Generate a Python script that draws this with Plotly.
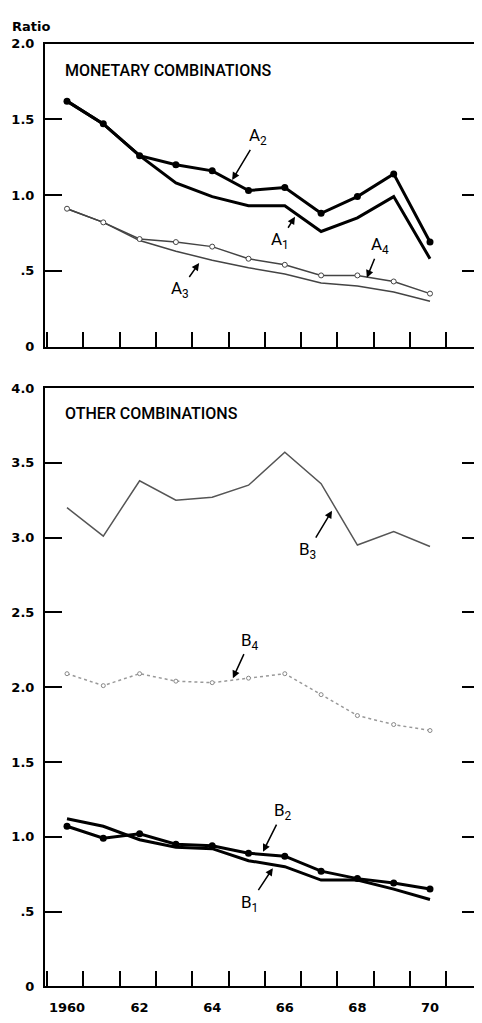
import plotly.graph_objects as go

years = list(range(1960, 1971))

# monetary combinations (top panel)
a1 = [1.62, 1.47, 1.26, 1.08, 0.99, 0.93, 0.93, 0.76, 0.85, 0.99, 0.58]
a2 = [1.62, 1.47, 1.26, 1.20, 1.16, 1.03, 1.05, 0.88, 0.99, 1.14, 0.69]
a3 = [0.91, 0.82, 0.70, 0.63, 0.57, 0.52, 0.48, 0.42, 0.40, 0.36, 0.30]
a4 = [0.91, 0.82, 0.71, 0.69, 0.66, 0.58, 0.54, 0.47, 0.47, 0.43, 0.35]

# other combinations (bottom panel)
b1 = [1.12, 1.07, 0.98, 0.93, 0.92, 0.84, 0.80, 0.71, 0.71, 0.65, 0.58]
b2 = [1.07, 0.99, 1.02, 0.95, 0.94, 0.89, 0.87, 0.77, 0.72, 0.69, 0.65]
b3 = [3.20, 3.01, 3.38, 3.25, 3.27, 3.35, 3.57, 3.36, 2.95, 3.04, 2.94]
b4 = [2.09, 2.01, 2.09, 2.04, 2.03, 2.06, 2.09, 1.95, 1.81, 1.75, 1.71]

top_ticks = [0, 0.5, 1.0, 1.5, 2.0]
top_labels = ["0", ".5", "1.0", "1.5", "2.0"]
bot_ticks = [0, 0.5, 1.0, 1.5, 2.0, 2.5, 3.0, 3.5, 4.0]
bot_labels = ["0", ".5", "1.0", "1.5", "2.0", "2.5", "3.0", "3.5", "4.0"]
year_ticks = [1960, 1962, 1964, 1966, 1968, 1970]
year_labels = ["1960", "62", "64", "66", "68", "70"]

# page adds an 8px body margin, so the figure is shrunk to fit the window
W, H = 466, 1007
L = 37
XR = [1959.394, 1971.212]
top_dom = [1 - 337 / H, 1 - 29 / H]
bot_dom = [1 - 987 / H, 1 - 379 / H]

BOLD = dict(family="DejaVu Sans", size=13, color="black", weight="bold")
NARROW = "Roboto"

fig = go.Figure()

thick = dict(color="black", width=3)
fig.add_trace(go.Scatter(x=years, y=a1, mode="lines", line=thick, xaxis="x", yaxis="y"))
fig.add_trace(go.Scatter(x=years, y=a2, mode="lines+markers", line=thick,
                         marker=dict(size=7, color="black"), xaxis="x", yaxis="y"))
fig.add_trace(go.Scatter(x=years, y=a3, mode="lines", line=dict(color="#444", width=1.5),
                         xaxis="x", yaxis="y"))
fig.add_trace(go.Scatter(x=years, y=a4, mode="lines+markers", line=dict(color="#444", width=1.5),
                         marker=dict(size=5, color="white", line=dict(color="#444", width=1)),
                         xaxis="x", yaxis="y"))

fig.add_trace(go.Scatter(x=years, y=b3, mode="lines", line=dict(color="#555", width=1.5),
                         xaxis="x2", yaxis="y2"))
fig.add_trace(go.Scatter(x=years, y=b4, mode="lines+markers",
                         line=dict(color="#999", width=1.5, dash="dot"),
                         marker=dict(size=4, color="white", line=dict(color="#888", width=1)),
                         xaxis="x2", yaxis="y2"))
fig.add_trace(go.Scatter(x=years, y=b1, mode="lines", line=thick, xaxis="x2", yaxis="y2"))
fig.add_trace(go.Scatter(x=years, y=b2, mode="lines+markers", line=thick,
                         marker=dict(size=7, color="black"), xaxis="x2", yaxis="y2"))

minor = dict(tick0=1960.45, dtick=1, ticks="inside", ticklen=15, tickwidth=2, tickcolor="black")
xcommon = dict(range=XR, domain=[0, 1], showline=True, linecolor="black", linewidth=2,
               mirror=True, showgrid=False, zeroline=False, ticks="",
               tickvals=year_ticks, ticktext=year_labels, minor=minor, tickfont=BOLD)
ycommon = dict(showline=True, linecolor="black", linewidth=2, showgrid=False,
               zeroline=False, ticks="inside", ticklen=17, tickwidth=2, tickcolor="black",
               tickfont=BOLD, ticklabelstandoff=6)
yright = dict(side="right", showline=False, showgrid=False, zeroline=False, ticks="inside",
              ticklen=12, tickwidth=2, tickcolor="black", showticklabels=False)

fig.update_layout(
    width=W, height=H,
    margin=dict(l=L, r=0, t=0, b=0),
    plot_bgcolor="white", paper_bgcolor="white",
    showlegend=False,
    xaxis=dict(xcommon, anchor="y", showticklabels=False),
    xaxis2=dict(xcommon, anchor="y2", showticklabels=True, ticklabelstandoff=8),
    yaxis=dict(ycommon, domain=top_dom, range=[0, 2.0], tickvals=top_ticks, ticktext=top_labels,
               anchor="x"),
    yaxis2=dict(ycommon, domain=bot_dom, range=[0, 4.0], tickvals=bot_ticks, ticktext=bot_labels,
                anchor="x2"),
    yaxis3=dict(yright, overlaying="y", anchor="x", range=[0, 2.0], tickvals=top_ticks[1:]),
    yaxis4=dict(yright, overlaying="y2", anchor="x2", range=[0, 4.0], tickvals=bot_ticks[1:]),
)

# keep overlay axes alive
fig.add_trace(go.Scatter(x=[years[0]], y=[a1[0]], mode="markers", marker=dict(opacity=0),
                         xaxis="x", yaxis="y3", hoverinfo="skip"))
fig.add_trace(go.Scatter(x=[years[0]], y=[b1[0]], mode="markers", marker=dict(opacity=0),
                         xaxis="x2", yaxis="y4", hoverinfo="skip"))

pw = W - L
fig.add_annotation(text="Ratio", xref="paper", yref="paper", x=(2 - L) / pw, y=1 - 12 / H,
                   xanchor="left", yanchor="middle", showarrow=False, font=BOLD)
fig.add_annotation(text="MONETARY COMBINATIONS", xref="x", yref="y", x=1959.9, y=1.82,
                   xanchor="left", yanchor="middle", showarrow=False,
                   font=dict(family=NARROW, size=16, color="black", weight=500))
fig.add_annotation(text="OTHER COMBINATIONS", xref="x2", yref="y2", x=1959.9, y=3.83,
                   xanchor="left", yanchor="middle", showarrow=False,
                   font=dict(family=NARROW, size=16, color="black", weight=500))

labels = [
    ("A<sub>2</sub>", "x", "y", 1964.55, 1.10, 26, -43),
    ("A<sub>1</sub>", "x", "y", 1966.28, 0.857, -15, 24),
    ("A<sub>4</sub>", "x", "y", 1968.26, 0.455, 13, -32),
    ("A<sub>3</sub>", "x", "y", 1963.64, 0.552, -19, 27),
    ("B<sub>3</sub>", "x2", "y2", 1967.3, 3.18, -24, 40),
    ("B<sub>4</sub>", "x2", "y2", 1964.57, 2.06, 17, -37),
    ("B<sub>2</sub>", "x2", "y2", 1965.4, 0.90, 20, -40),
    ("B<sub>1</sub>", "x2", "y2", 1965.67, 0.79, -23, 35),
]
for txt, xr, yr, x, y, ax, ay in labels:
    fig.add_annotation(text=txt, xref=xr, yref=yr, x=x, y=y, ax=ax, ay=ay,
                       showarrow=True, arrowhead=2, arrowsize=1, arrowwidth=1.5,
                       arrowcolor="black", font=dict(family=NARROW, size=17, color="black"))

fig.write_html("out.html")
